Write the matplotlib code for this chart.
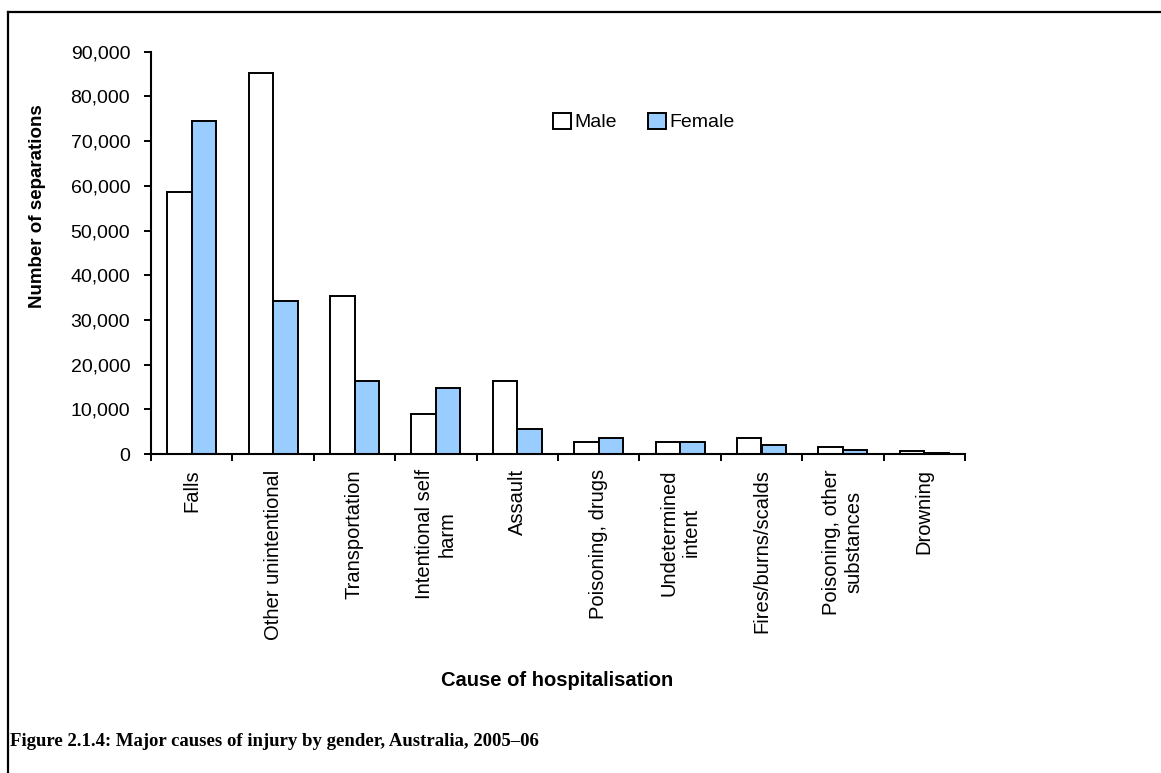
import numpy as np
import matplotlib.pyplot as plt
from matplotlib.lines import Line2D
from matplotlib.ticker import FuncFormatter

plt.rcParams['font.family'] = ['Liberation Sans', 'DejaVu Sans']

# data
causes = ['Falls', 'Other unintentional', 'Transportation', 'Intentional self\nharm',
          'Assault', 'Poisoning, drugs', 'Undetermined\nintent', 'Fires/burns/scalds',
          'Poisoning, other\nsubstances', 'Drowning']
male = [58700, 85200, 35400, 8900, 16300, 2600, 2600, 3600, 1600, 600]
female = [74600, 34300, 16300, 14700, 5700, 3600, 2600, 2000, 1000, 200]

W, H = 1161, 773
fig = plt.figure(figsize=(W / 100, H / 100), dpi=100)
ax = fig.add_axes([151 / W, 1 - 454 / H, (965 - 151) / W, (454 - 51.7) / H])

x = np.arange(len(causes))
bw = 0.3
ax.bar(x - bw / 2, male, bw, color='white', edgecolor='black', linewidth=1.4, label='Male')
ax.bar(x + bw / 2, female, bw, color='#99CCFF', edgecolor='black', linewidth=1.4, label='Female')

ax.set_xlim(-0.5, len(causes) - 0.5)
ax.set_ylim(0, 90000)
ax.set_yticks(np.arange(0, 90001, 10000))
ax.yaxis.set_major_formatter(FuncFormatter(lambda v, p: f'{int(v):,}'))
ax.tick_params(axis='y', direction='out', length=5, width=1.4, labelsize=14, pad=10)

ax.set_xticks(x)
ax.set_xticklabels(causes, rotation=90, va='top', ha='center', multialignment='center')
ax.tick_params(axis='x', which='major', length=0, labelsize=14.5, pad=11)
ax.set_xticks(np.arange(-0.5, len(causes)), minor=True)
ax.tick_params(axis='x', which='minor', direction='out', length=5, width=1.4)

for s in ['top', 'right']:
    ax.spines[s].set_visible(False)
for s in ['left', 'bottom']:
    ax.spines[s].set_linewidth(1.5)

fig.text(38 / W, 1 - 206 / H, 'Number of separations', rotation=90, ha='center', va='center',
         fontsize=13.5, fontweight='bold')
fig.text(557 / W, 1 - 680 / H, 'Cause of hospitalisation', ha='center', va='center',
         fontsize=14.5, fontweight='bold')

fig.legend(loc='center left', bbox_to_anchor=(553 / W, 1 - 122 / H), ncol=2, frameon=False,
           fontsize=14, handlelength=0.9, handleheight=0.9, handletextpad=0.2,
           columnspacing=1.6, borderpad=0, borderaxespad=0)

fig.text(10 / W, 1 - 741 / H, 'Figure 2.1.4: Major causes of injury by gender, Australia, 2005\u201306',
         ha='left', va='center', fontsize=13.5, fontweight='bold', family=['Liberation Serif', 'DejaVu Serif'])

# frame around the figure (top and left edges visible)
fig.add_artist(Line2D([8 / W, 8 / W], [0, 1 - 12 / H], color='black', linewidth=1.6, transform=fig.transFigure))
fig.add_artist(Line2D([8 / W, 1], [1 - 12 / H, 1 - 12 / H], color='black', linewidth=1.6, transform=fig.transFigure))

fig.savefig('out.png', dpi=100)
